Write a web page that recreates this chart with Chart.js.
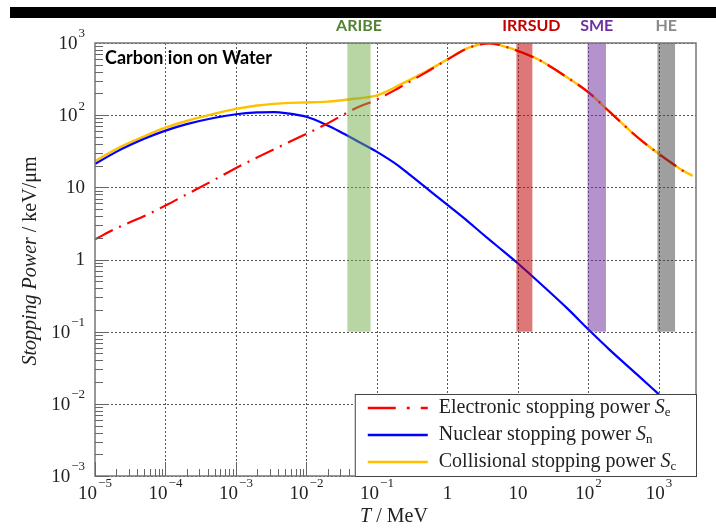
<!DOCTYPE html>
<html>
<head>
<meta charset="utf-8">
<script src="https://cdn.jsdelivr.net/npm/chart.js@4.4.1/dist/chart.umd.min.js"></script>
<style>
  html, body { margin: 0; padding: 0; background: #fff; }
  #wrap { position: relative; width: 716px; height: 528px; }
</style>
</head>
<body>
<div id="wrap"><canvas id="my-chart" width="716" height="528"></canvas></div>
<script>
// values (MeV, keV/um)
const energyElectronic = [1e-5, 2e-5, 5e-5, 1e-4, 2e-4, 5e-4, 1e-3, 2e-3, 5e-3, 1e-2, 2e-2, 5e-2, 0.1, 0.2, 0.5, 1, 2, 4, 7, 10, 20, 50, 100, 200, 500, 1000, 2000, 2500];
const electronicPower = [1.9, 2.7, 4.0, 5.6, 8.0, 12.8, 18.5, 26, 40, 55, 77, 125, 165, 236, 394, 589, 857, 990, 874, 775, 582, 333, 207, 111, 49, 29, 18, 15.5];

const energyNuclear = [1e-5, 2e-5, 5e-5, 1e-4, 2e-4, 5e-4, 1e-3, 2e-3, 3.5e-3, 5e-3, 1e-2, 2e-2, 3e-2, 5e-2, 0.1, 0.2, 0.3, 0.5, 1, 2, 3, 5, 10, 20, 50, 100, 200, 500, 1000];
const nuclearPower = [21, 31, 47, 61, 75, 92, 103, 109, 110, 107, 95, 72, 59, 45, 31, 20, 14.6, 9.8, 5.7, 3.3, 2.35, 1.55, 0.88, 0.48, 0.21, 0.107, 0.056, 0.025, 0.0135];

const energyCollisional = [1e-5, 2e-5, 5e-5, 1e-4, 2e-4, 5e-4, 1e-3, 2e-3, 5e-3, 1e-2, 2e-2, 3e-2, 5e-2, 0.1, 0.2, 0.5, 1, 2, 4, 7, 10, 20, 50, 100, 200, 500, 1000, 2000, 3000];
const collisionalPower = [23, 34, 51, 67, 83, 105, 122, 136, 147, 150, 154, 160, 170, 188, 256, 404, 595, 860, 990, 874, 775, 582, 333, 207, 111, 49, 29, 18, 14.4];

const facilityNames = ["ARIBE", "IRRSUD", "SME", "HE"];
const facilityLow = [0.038, 9.5, 97, 950];
const facilityHigh = [0.081, 16, 177, 1690];

const xTicks = [1e-5, 1e-4, 1e-3, 1e-2, 1e-1, 1, 10, 100, 1000];
const xTickLabels = ["10^−5", "10^−4", "10^−3", "10^−2", "10^−1", "1", "10", "10^2", "10^3"];
const yTicks = [1e-3, 1e-2, 1e-1, 1, 10, 100, 1000];
const yTickLabels = ["10^−3", "10^−2", "10^−1", "1", "10", "10^2", "10^3"];

const legendLabels = ["Electronic stopping power ", "Nuclear stopping power ", "Collisional stopping power "];
const legendSubscripts = ["e", "n", "c"];

const facilityFill = ["rgba(112,173,71,0.5)", "rgba(192,0,0,0.53)", "rgba(112,48,160,0.52)", "rgba(64,64,64,0.5)"];
const facilityText = ["#548235", "#c00000", "#7030a0", "#8a8a8a"];
const SERIF = "'Liberation Serif', 'Times New Roman', serif";

const toPoints = (xs, ys) => xs.map((x, i) => ({ x: x, y: ys[i] }));

// "10^-5" -> base + raised exponent
const drawPower = (ctx, text, x, y, align) => {
  const [base, exp] = text.split("^");
  ctx.font = "19px " + SERIF;
  const wb = ctx.measureText(base).width;
  ctx.font = "13px " + SERIF;
  const we = exp ? ctx.measureText(exp).width + 1 : 0;
  const total = wb + we;
  const start = align === "right" ? x - total : x - total / 2;
  ctx.textAlign = "left";
  ctx.textBaseline = "middle";
  ctx.font = "19px " + SERIF;
  ctx.fillText(base, start, y);
  if (exp) {
    ctx.font = "13px " + SERIF;
    ctx.fillText(exp, start + wb + 1, y - 10);
  }
};

const drawSymbol = (ctx, x, y, sub) => {
  ctx.font = "italic 20px " + SERIF;
  ctx.fillText("S", x, y);
  const w = ctx.measureText("S").width;
  ctx.font = "13px " + SERIF;
  ctx.fillText(sub, x + w, y + 5);
};

const gridPlugin = {
  id: "grid",
  beforeDatasetsDraw(chart) {
    const { ctx, chartArea: a, scales: { x, y } } = chart;
    ctx.save();
    ctx.strokeStyle = "#555";
    ctx.lineWidth = 1;
    ctx.setLineDash([2, 2]);
    xTicks.slice(1).forEach((v) => {
      const px = Math.round(x.getPixelForValue(v)) + 0.5;
      ctx.beginPath(); ctx.moveTo(px, a.top); ctx.lineTo(px, a.bottom); ctx.stroke();
    });
    yTicks.forEach((v) => {
      const py = Math.round(y.getPixelForValue(v)) + 0.5;
      ctx.beginPath(); ctx.moveTo(a.left, py); ctx.lineTo(a.right, py); ctx.stroke();
    });
    ctx.restore();
  },
};

const decorPlugin = {
  id: "decor",
  afterDatasetsDraw(chart) {
    const { ctx, chartArea: a, scales: { x, y } } = chart;
    ctx.save();

    // facility bands
    facilityNames.forEach((name, i) => {
      const x0 = x.getPixelForValue(facilityLow[i]);
      const x1 = x.getPixelForValue(facilityHigh[i]);
      const yb = y.getPixelForValue(0.1);
      ctx.fillStyle = facilityFill[i];
      ctx.fillRect(x0, a.top, x1 - x0, yb - a.top);
      ctx.fillStyle = facilityText[i];
      ctx.font = "bold 16px Lato, sans-serif";
      ctx.textAlign = "center";
      ctx.textBaseline = "middle";
      const dx = name === "IRRSUD" ? 7 : 0;
      ctx.fillText(name, (x0 + x1) / 2 + dx, 26);
    });

    // frame
    ctx.strokeStyle = "#777";
    ctx.lineWidth = 1.5;
    ctx.strokeRect(a.left, a.top, a.right - a.left, a.bottom - a.top);

    // minor + major ticks
    ctx.strokeStyle = "#666";
    ctx.lineWidth = 1;
    for (let d = -3; d <= 2; d++) {
      for (let k = 1; k <= 9; k++) {
        const py = Math.round(y.getPixelForValue(k * Math.pow(10, d))) + 0.5;
        const len = k === 1 ? 14 : 8;
        ctx.beginPath(); ctx.moveTo(a.left, py); ctx.lineTo(a.left + len, py); ctx.stroke();
      }
    }
    for (let d = -5; d <= 3; d++) {
      for (let k = 1; k <= 9; k++) {
        const v = k * Math.pow(10, d);
        if (v > x.max) break;
        const px = Math.round(x.getPixelForValue(v)) + 0.5;
        const len = k === 1 ? 14 : 7;
        ctx.beginPath(); ctx.moveTo(px, a.bottom); ctx.lineTo(px, a.bottom - len); ctx.stroke();
      }
    }

    // tick labels
    ctx.fillStyle = "#222";
    xTicks.forEach((v, i) => drawPower(ctx, xTickLabels[i], x.getPixelForValue(v), 494, "center"));
    yTicks.forEach((v, i) => drawPower(ctx, yTickLabels[i], 85, y.getPixelForValue(v) + 1, "right"));

    // axis titles
    ctx.font = "italic 20px " + SERIF;
    const wT = ctx.measureText("T").width;
    ctx.font = "20px " + SERIF;
    const wRest = ctx.measureText(" / MeV").width;
    let sx = 394 - (wT + wRest) / 2;
    ctx.textAlign = "left";
    ctx.textBaseline = "middle";
    ctx.font = "italic 20px " + SERIF;
    ctx.fillText("T", sx, 517);
    ctx.font = "20px " + SERIF;
    ctx.fillText(" / MeV", sx + wT, 517);

    ctx.save();
    ctx.translate(31, 261);
    ctx.rotate(-Math.PI / 2);
    ctx.font = "italic 20px " + SERIF;
    const wSP = ctx.measureText("Stopping Power").width;
    ctx.font = "20px " + SERIF;
    const wU = ctx.measureText(" / keV/μm").width;
    sx = -(wSP + wU) / 2;
    ctx.font = "italic 20px " + SERIF;
    ctx.fillText("Stopping Power", sx, 0);
    ctx.font = "20px " + SERIF;
    ctx.fillText(" / keV/μm", sx + wSP, 0);
    ctx.restore();

    // legend
    const lx = x.getPixelForValue(0.05) - 1;
    const ly = 394;
    ctx.fillStyle = "#fff";
    ctx.fillRect(lx, ly, a.right - lx, a.bottom - ly);
    ctx.strokeStyle = "#444";
    ctx.lineWidth = 1;
    ctx.strokeRect(lx + 0.5, ly + 0.5, a.right - lx, a.bottom - ly);
    const rows = [408, 435, 462];
    chart.data.datasets.forEach((ds, i) => {
      ctx.strokeStyle = ds.borderColor;
      ctx.lineWidth = 2.5;
      ctx.setLineDash(i === 0 ? [28, 11, 3, 11] : []);
      ctx.beginPath(); ctx.moveTo(lx + 13, rows[i]); ctx.lineTo(lx + 73, rows[i]); ctx.stroke();
      ctx.setLineDash([]);
      ctx.fillStyle = "#222";
      ctx.font = "20px " + SERIF;
      ctx.textAlign = "left";
      ctx.textBaseline = "middle";
      ctx.fillText(legendLabels[i], lx + 84, rows[i]);
      const w = ctx.measureText(legendLabels[i]).width;
      drawSymbol(ctx, lx + 84 + w, rows[i], legendSubscripts[i]);
    });

    // title + top bar
    ctx.fillStyle = "#000";
    ctx.fillRect(10, 7, 706, 11);
    ctx.font = "bold 18px Lato, sans-serif";
    ctx.textAlign = "left";
    ctx.textBaseline = "middle";
    ctx.fillText("Carbon ion on Water", 105, 58);
    ctx.restore();
  },
};

const chartContainer = document.getElementById("my-chart");
new Chart(chartContainer, {
  type: "line",
  data: {
    datasets: [
      {
        label: "Electronic stopping power",
        data: toPoints(energyElectronic, electronicPower),
        borderColor: "#ff0000",
        borderWidth: 2.2,
        borderDash: [20, 7, 2, 7],
        pointRadius: 0,
        cubicInterpolationMode: "monotone",
      },
      {
        label: "Nuclear stopping power",
        data: toPoints(energyNuclear, nuclearPower),
        borderColor: "#0000ff",
        borderWidth: 2.2,
        pointRadius: 0,
        cubicInterpolationMode: "monotone",
      },
      {
        label: "Collisional stopping power",
        data: toPoints(energyCollisional, collisionalPower),
        borderColor: "#ffc000",
        borderWidth: 2.4,
        pointRadius: 0,
        cubicInterpolationMode: "monotone",
      },
    ],
  },
  options: {
    responsive: false,
    animation: false,
    layout: { padding: { left: 95, right: 20, top: 43, bottom: 52 } },
    scales: {
      x: { type: "logarithmic", min: 1e-5, max: 3350, display: false },
      y: { type: "logarithmic", min: 1e-3, max: 1000, display: false },
    },
    plugins: {
      legend: { display: false },
      tooltip: { enabled: false },
    },
  },
  plugins: [gridPlugin, decorPlugin],
});
</script>
</body>
</html>
